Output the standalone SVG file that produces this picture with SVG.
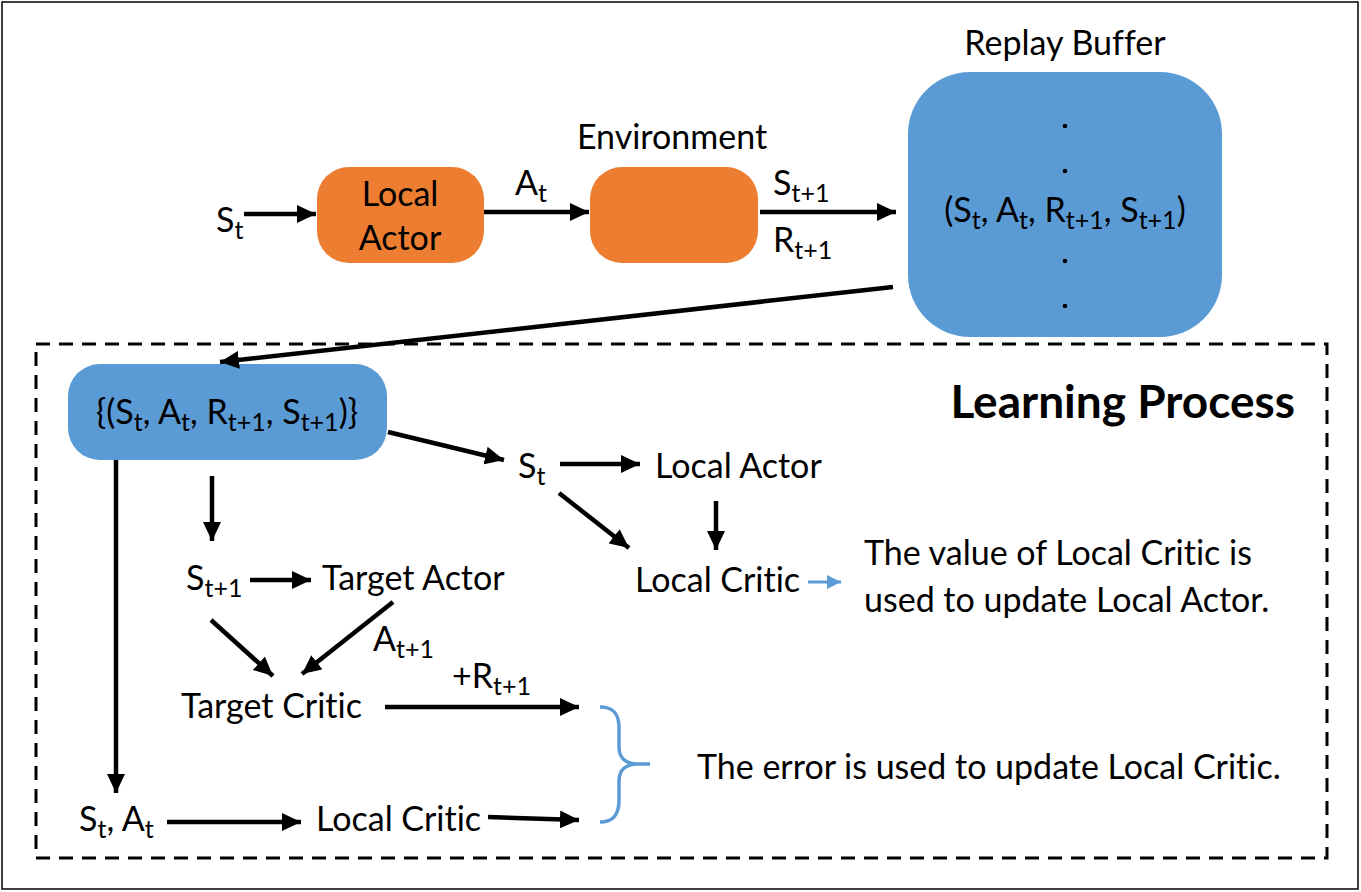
<svg xmlns="http://www.w3.org/2000/svg" width="1361" height="892" viewBox="0 0 1361 892">
<style>
text{font-family:Lato,"Noto Sans",sans-serif;font-size:34px;fill:#000;font-variant-ligatures:none}
.sub{font-size:25px}
.orange{fill:#ED7D31}
.blue{fill:#5B9BD5}
.conn line{stroke:#000;stroke-width:4.5;marker-end:url(#ah)}
</style>
<defs>
<marker id="ah" markerUnits="userSpaceOnUse" markerWidth="20" markerHeight="18" refX="19" refY="9" orient="auto">
<path d="M0,0 L19,9 L0,18 Z" fill="#000"/>
</marker>
<marker id="ahb" markerUnits="userSpaceOnUse" markerWidth="16" markerHeight="14" refX="14" refY="7" orient="auto">
<path d="M0,0 L14,7 L0,14 Z" fill="#5B9BD5"/>
</marker>
</defs>
<rect x="0" y="0" width="1361" height="892" fill="#fff"/>
<rect x="2" y="2" width="1356" height="887" fill="none" stroke="#000" stroke-width="1.5"/>
<rect id="learning-frame" x="36" y="344" width="1291" height="514" fill="none" stroke="#000" stroke-width="3" stroke-dasharray="14,9"/>

<g id="st-in"><text x="216" y="232">S<tspan class="sub" dy="7">t</tspan></text></g>
<g id="local-actor-box"><rect class="orange" x="317" y="167" width="167" height="96" rx="32"/>
<text x="400" y="206" text-anchor="middle">Local</text><text x="400" y="250" text-anchor="middle">Actor</text></g>
<g id="environment"><rect class="orange" x="590" y="167" width="168" height="96" rx="32"/>
<text x="672" y="149" text-anchor="middle">Environment</text></g>
<g id="lbl-at"><text x="515" y="195">A<tspan class="sub" dy="7">t</tspan></text></g>
<g id="lbl-st1"><text x="773" y="195">S<tspan class="sub" dy="7">t+1</tspan></text></g>
<g id="lbl-rt1"><text x="773" y="252">R<tspan class="sub" dy="7">t+1</tspan></text></g>
<g id="replay-buffer"><rect class="blue" x="908" y="72" width="314" height="265" rx="62"/>
<text x="1065" y="55" text-anchor="middle">Replay Buffer</text>
<circle cx="1065" cy="126" r="2.3"/><circle cx="1065" cy="171" r="2.3"/><circle cx="1065" cy="261" r="2.3"/><circle cx="1065" cy="306" r="2.3"/>
<text x="1065" y="222" text-anchor="middle">(S<tspan class="sub" dy="7">t</tspan><tspan dy="-7">, A</tspan><tspan class="sub" dy="7">t</tspan><tspan dy="-7">, R</tspan><tspan class="sub" dy="7">t+1</tspan><tspan dy="-7">, S</tspan><tspan class="sub" dy="7">t+1</tspan><tspan dy="-7">)</tspan></text></g>

<g id="batch"><rect class="blue" x="68" y="364" width="319" height="96" rx="32"/>
<text x="227" y="424" text-anchor="middle">{(S<tspan class="sub" dy="7">t</tspan><tspan dy="-7">, A</tspan><tspan class="sub" dy="7">t</tspan><tspan dy="-7">, R</tspan><tspan class="sub" dy="7">t+1</tspan><tspan dy="-7">, S</tspan><tspan class="sub" dy="7">t+1</tspan><tspan dy="-7">)}</tspan></text></g>
<g id="learning-title"><text x="1295" y="418" text-anchor="end" style="font-weight:bold;font-size:46px">Learning Process</text></g>

<g id="st-2"><text x="518" y="478">S<tspan class="sub" dy="7">t</tspan></text></g>
<g id="local-actor-2"><text x="655" y="478">Local Actor</text></g>
<g id="local-critic-1"><text x="635" y="592">Local Critic</text></g>
<g id="note-value"><text x="864" y="565">The value of Local Critic is</text><text x="864" y="612">used to update Local Actor.</text></g>
<g id="st1-2"><text x="186" y="590">S<tspan class="sub" dy="7">t+1</tspan></text></g>
<g id="target-actor"><text x="322" y="590">Target Actor</text></g>
<g id="lbl-at1"><text x="373" y="651">A<tspan class="sub" dy="7">t+1</tspan></text></g>
<g id="target-critic"><text x="181" y="718">Target Critic</text></g>
<g id="lbl-rt1b"><text x="452" y="688">+R<tspan class="sub" dy="7">t+1</tspan></text></g>
<g id="stat"><text x="79" y="831">S<tspan class="sub" dy="7">t</tspan><tspan dy="-7">, A</tspan><tspan class="sub" dy="7">t</tspan></text></g>
<g id="local-critic-2"><text x="316" y="831">Local Critic</text></g>
<g id="note-error"><text x="697" y="779">The error is used to update Local Critic.</text></g>
<g id="brace"><path d="M600,707 C613,707 619,713 619,728 L619,747 C619,758 626,764 638,764 L650,764 M638,764 C626,764 619,770 619,781 L619,800 C619,815 613,822 600,822" fill="none" stroke="#5B9BD5" stroke-width="3.5"/></g>

<g id="connectors" class="conn">
<line x1="244" y1="214" x2="316" y2="214"/>
<line x1="484" y1="212" x2="589" y2="212"/>
<line x1="760" y1="212" x2="896" y2="212"/>
<line x1="893" y1="287" x2="220" y2="362"/>
<line x1="388" y1="432" x2="504" y2="460"/>
<line x1="560" y1="464" x2="640" y2="464"/>
<line x1="716" y1="501" x2="716" y2="550"/>
<line x1="559" y1="493" x2="629" y2="548"/>
<line x1="212" y1="476" x2="212" y2="541"/>
<line x1="116" y1="460" x2="116" y2="793"/>
<line x1="250" y1="580" x2="311" y2="580"/>
<line x1="211" y1="620" x2="273" y2="676"/>
<line x1="393" y1="602" x2="302" y2="674"/>
<line x1="385" y1="707" x2="579" y2="707"/>
<line x1="167" y1="822" x2="301" y2="822"/>
<line x1="488" y1="817" x2="579" y2="820"/>
<line x1="808" y1="582" x2="841" y2="582" style="stroke:#5B9BD5;stroke-width:3;marker-end:url(#ahb)"/>
</g>
</svg>
